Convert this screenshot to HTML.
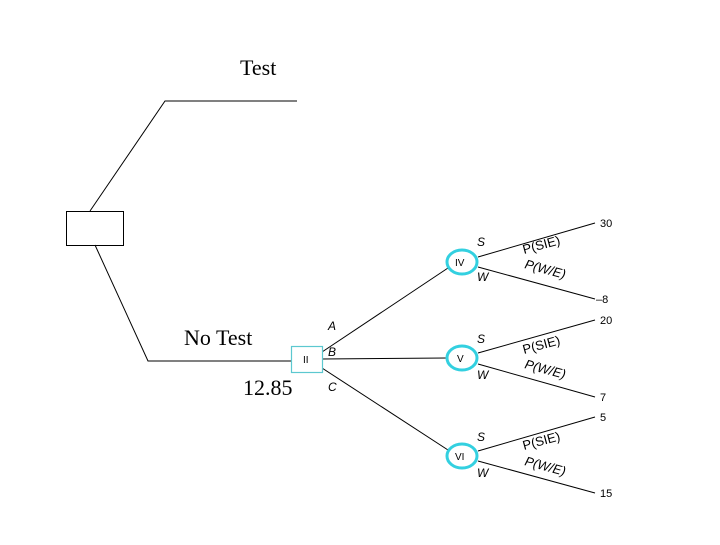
<!DOCTYPE html>
<html><head><style>body{margin:0;background:#fff}.serif{font-family:"Liberation Serif","Times New Roman",serif}.sans{font-family:"Liberation Sans",Arial,sans-serif}</style></head><body>
<svg width="720" height="540" viewBox="0 0 720 540" xmlns="http://www.w3.org/2000/svg">
<rect width="720" height="540" fill="#fff"/>
<g stroke="#000" stroke-width="1" fill="none">
<polyline points="90,211 165,101 297,101"/>
<polyline points="95,245 148,361 291,361"/>
<rect x="66.5" y="211.5" width="57" height="34"/>
<line x1="322" y1="352" x2="448" y2="268"/>
<line x1="322" y1="359" x2="447" y2="358"/>
<line x1="322" y1="368" x2="448" y2="450"/>
<line x1="478" y1="257" x2="595" y2="223"/>
<line x1="478" y1="267" x2="595" y2="299"/>
<line x1="478" y1="353" x2="595" y2="320"/>
<line x1="478" y1="364" x2="595" y2="397"/>
<line x1="478" y1="451" x2="595" y2="417"/>
<line x1="478" y1="461" x2="595" y2="493"/>
</g>
<rect x="291.5" y="346.5" width="31" height="26" fill="#fff" stroke="#5cc8d0" stroke-width="1.2"/>
<g fill="#fff" stroke="#33d0e0" stroke-width="3">
<ellipse cx="462" cy="262" rx="15" ry="12"/>
<ellipse cx="462" cy="358" rx="15" ry="12"/>
<ellipse cx="462" cy="456" rx="15" ry="12"/>
</g>
<g class="serif" font-size="22" fill="#000">
<text x="240" y="75">Test</text>
<text x="184" y="345">No Test</text>
<text x="243" y="395">12.85</text>
</g>
<g class="sans" font-size="10" fill="#000">
<text x="303" y="363">II</text>
<text x="455" y="266">IV</text>
<text x="457" y="362">V</text>
<text x="455" y="460">VI</text>
<text x="600" y="227" font-size="11">30</text>
<text x="596" y="303" font-size="11">–8</text>
<text x="600" y="324" font-size="11">20</text>
<text x="600" y="401" font-size="11">7</text>
<text x="600" y="421" font-size="11">5</text>
<text x="600" y="497" font-size="11">15</text>
<g font-style="italic" font-size="12">
<text x="328" y="330">A</text>
<text x="328" y="356">B</text>
<text x="328" y="391">C</text>
<text x="477" y="246">S</text><text x="477" y="281">W</text>
<text x="477" y="343">S</text><text x="477" y="379">W</text>
<text x="477" y="441">S</text><text x="477" y="477">W</text>
</g>
<g font-size="13">
<text transform="translate(524,254) rotate(-15)">P(SIE)</text>
<text transform="translate(524,268) rotate(15)" font-style="italic">P(W/E)</text>
<text transform="translate(524,354) rotate(-15)">P(SIE)</text>
<text transform="translate(524,368) rotate(15)" font-style="italic">P(W/E)</text>
<text transform="translate(524,450) rotate(-15)">P(SIE)</text>
<text transform="translate(524,465) rotate(15)" font-style="italic">P(W/E)</text>
</g>
</g>
</svg>
</body></html>
